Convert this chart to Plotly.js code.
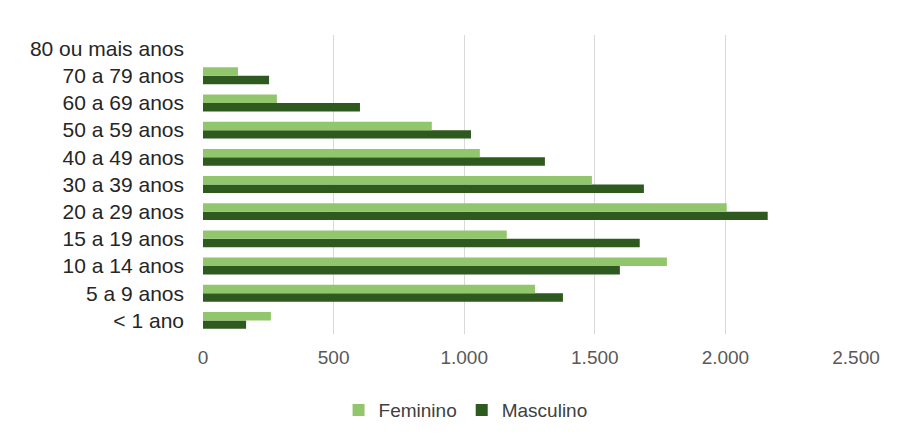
<!DOCTYPE html>
<html>
<head>
<meta charset="utf-8">
<script src="https://cdn.plot.ly/plotly-3.0.1.min.js"></script>
<style>html,body{margin:0;padding:0;background:#fff;}#chart{width:904px;height:441px;}</style>
</head>
<body>
<div id="chart"></div>
<script>
const categories = ["< 1 ano", "5 a 9 anos", "10 a 14 anos", "15 a 19 anos", "20 a 29 anos", "30 a 39 anos", "40 a 49 anos", "50 a 59 anos", "60 a 69 anos", "70 a 79 anos", "80 ou mais anos"];
const feminino = [260, 1271, 1776, 1163, 2005, 1489, 1060, 876, 283, 134, 0];
const masculino = [165, 1378, 1596, 1672, 2162, 1688, 1309, 1026, 601, 253, 0];
const xTicks = [0, 500, 1000, 1500, 2000, 2500];

const traces = [
  {type: "bar", orientation: "h", name: "Masculino", y: categories, x: masculino,
   marker: {color: "#2f5a1f"}, legendrank: 2, hoverinfo: "x+y"},
  {type: "bar", orientation: "h", name: "Feminino", y: categories, x: feminino,
   marker: {color: "#92c66c"}, legendrank: 1, hoverinfo: "x+y"}
];

const layout = {
  width: 904, height: 441,
  paper_bgcolor: "#ffffff", plot_bgcolor: "#ffffff",
  margin: {l: 203, r: 48, t: 35, b: 107},
  font: {family: "Liberation Sans, Arial, sans-serif", color: "#404040"},
  separators: ",.",
  barmode: "group", bargap: 0.38, bargroupgap: 0,
  showlegend: true,
  legend: {orientation: "h", xref: "container", yref: "container", x: 0.515, xanchor: "center",
           y: 0.07, yanchor: "middle", font: {size: 19, color: "#404040"}, itemwidth: 30},
  xaxis: {range: [0, 2500], tickvals: xTicks, tickformat: ",d", showgrid: true, gridcolor: "#d9d9d9",
          gridwidth: 1, zeroline: false, showline: false, ticks: "", ticklabelstandoff: 10,
          tickfont: {size: 19, color: "#595959"}},
  yaxis: {type: "category", categoryorder: "array", categoryarray: categories, showgrid: false,
          zeroline: false, showline: false, ticks: "", ticklabelstandoff: 18,
          tickfont: {size: 21, color: "#262626"}}
};

Plotly.newPlot("chart", traces, layout, {displayModeBar: false, staticPlot: true});
</script>
</body>
</html>
